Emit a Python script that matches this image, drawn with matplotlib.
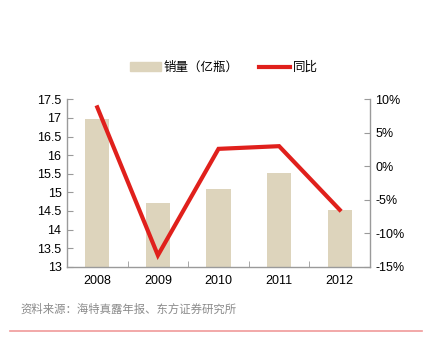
import matplotlib
matplotlib.use("Agg")
import matplotlib.pyplot as plt
from matplotlib.lines import Line2D
from matplotlib.patches import Patch

years = ["2008", "2009", "2010", "2011", "2012"]
sales = [16.97, 14.70, 15.08, 15.53, 14.52]
yoy = [8.8, -13.3, 2.6, 3.0, -6.5]
left_ticks = [13, 13.5, 14, 14.5, 15, 15.5, 16, 16.5, 17, 17.5]
left_labels = ["13", "13.5", "14", "14.5", "15", "15.5", "16", "16.5", "17", "17.5"]
right_ticks = [-15, -10, -5, 0, 5, 10]
right_labels = ["-15%", "-10%", "-5%", "0%", "5%", "10%"]
source = "资料来源：海特真露年报、东方证券研究所"
bar_label = "销量（亿瓶）"
line_label = "同比"

plt.rcParams['font.family'] = ['Liberation Sans', 'Noto Sans CJK SC', 'DejaVu Sans']
W, H = 426, 352
fig = plt.figure(figsize=(W/100, H/100), dpi=100)
ax = fig.add_axes([67/W, 1-266.7/H, (370-67)/W, (266.7-99.3)/H])
ax2 = ax.twinx()

bar_color = "#ddd4bc"
red = "#e0201c"
gray = "#9a9a9a"
x = list(range(len(years)))
ax.bar(x, [s - 13 for s in sales], bottom=13, width=0.4, color=bar_color, zorder=2)
ax.set_ylim(13, 17.5)
ax.set_xlim(-0.5, 4.5)
ax.set_yticks(left_ticks)
ax.set_yticklabels(left_labels, fontsize=9)
ax.set_xticks(x)
ax.set_xticklabels(years, fontsize=9)
ax.set_xticks([i + 0.5 for i in range(len(years) - 1)], minor=True)
ax.tick_params(axis='x', which='major', length=0, pad=6)
ax.tick_params(axis='x', which='minor', length=4, direction='in', color=gray)
ax.tick_params(axis='y', length=4, direction='in', color=gray, pad=4)

ax2.plot(x, yoy, color=red, lw=3, zorder=3, solid_joinstyle='miter')
ax2.set_ylim(-15, 10)
ax2.set_yticks(right_ticks)
ax2.set_yticklabels(right_labels, fontsize=9)
ax2.tick_params(axis='y', length=4, direction='in', color=gray, pad=4)

for a in (ax, ax2):
    a.spines['top'].set_visible(False)
    for s in ('left', 'right', 'bottom'):
        a.spines[s].set_color(gray)
        a.spines[s].set_linewidth(1)
ax2.spines['left'].set_visible(False)
ax.spines['right'].set_visible(False)
ax2.spines['bottom'].set_visible(False)

handles = [Patch(color=bar_color, label=bar_label),
           Line2D([0], [0], color=red, lw=3, label=line_label)]
fig.legend(handles=handles, loc='center', bbox_to_anchor=(224/W, 1-68/H), ncol=2,
           frameon=False, fontsize=9, handlelength=2.5, handleheight=0.7,
           columnspacing=1.6, handletextpad=0.25)

fig.text(20/W, 1-309/H, source, fontsize=8.2, color="#8a8a8a", va='center', ha='left')
fig.add_artist(Line2D([10/W, 422/W], [1-330.5/H, 1-330.5/H], color="#f09a9a", lw=1.2))

fig.savefig("out.png", dpi=100)
